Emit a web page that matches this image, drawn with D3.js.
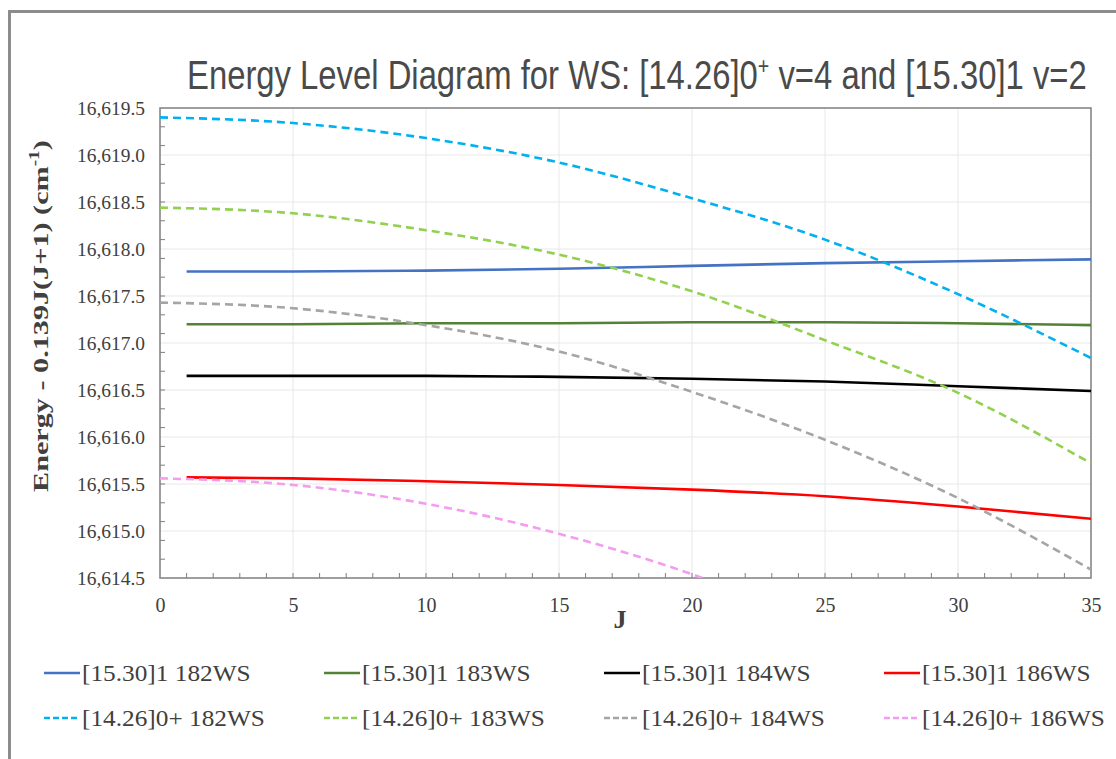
<!DOCTYPE html>
<html>
<head>
<meta charset="utf-8">
<script src="https://cdn.jsdelivr.net/npm/d3@7"></script>
<style>
  body { margin: 0; background: #fff; }
  svg { display: block; }
  .serif { font-family: "Liberation Serif", "Times New Roman", serif; }
</style>
</head>
<body>
<div id="chart"></div>
<script>
// J values
const jSolid = [1, 5, 10, 15, 20, 25, 30, 35];
const jDash = [0, 5, 10, 15, 20, 25, 30, 35];
const jPink = [0, 5, 10, 15, 20, 20.4];

// [15.30]1 v=2 (solid)
const ws182_1 = [16617.76, 16617.76, 16617.77, 16617.79, 16617.82, 16617.85, 16617.87, 16617.89];
const ws183_1 = [16617.20, 16617.20, 16617.21, 16617.21, 16617.22, 16617.22, 16617.21, 16617.19];
const ws184_1 = [16616.65, 16616.65, 16616.65, 16616.64, 16616.62, 16616.59, 16616.54, 16616.49];
const ws186_1 = [16615.57, 16615.56, 16615.53, 16615.49, 16615.44, 16615.37, 16615.26, 16615.13];

// [14.26]0+ v=4 (dashed)
const ws182_0 = [16619.40, 16619.34, 16619.18, 16618.92, 16618.54, 16618.10, 16617.52, 16616.84];
const ws183_0 = [16618.44, 16618.38, 16618.20, 16617.94, 16617.55, 16617.03, 16616.47, 16615.72];
const ws184_0 = [16617.43, 16617.37, 16617.19, 16616.91, 16616.48, 16615.97, 16615.35, 16614.59];
const ws186_0 = [16615.56, 16615.49, 16615.29, 16614.97, 16614.54, 16614.50];

const legendLabels = ['[15.30]1 182WS', '[15.30]1 183WS', '[15.30]1 184WS', '[15.30]1 186WS',
                      '[14.26]0+ 182WS', '[14.26]0+ 183WS', '[14.26]0+ 184WS', '[14.26]0+ 186WS'];

const xTicks = [0, 5, 10, 15, 20, 25, 30, 35];
const yTicks = [16614.5, 16615.0, 16615.5, 16616.0, 16616.5, 16617.0, 16617.5, 16618.0, 16618.5, 16619.0, 16619.5];

const series = [
  {name: legendLabels[0], j: jSolid, v: ws182_1, color: '#4472C4', dash: null},
  {name: legendLabels[1], j: jSolid, v: ws183_1, color: '#538135', dash: null},
  {name: legendLabels[2], j: jSolid, v: ws184_1, color: '#000000', dash: null},
  {name: legendLabels[3], j: jSolid, v: ws186_1, color: '#FF0000', dash: null},
  {name: legendLabels[4], j: jDash, v: ws182_0, color: '#00B0F0', dash: '8,5'},
  {name: legendLabels[5], j: jDash, v: ws183_0, color: '#92D050', dash: '8,5'},
  {name: legendLabels[6], j: jDash, v: ws184_0, color: '#A5A5A5', dash: '8,5'},
  {name: legendLabels[7], j: jPink, v: ws186_0, color: '#F49CF0', dash: '8,5'}
];

const W = 1116, H = 759;
const pLeft = 160, pRight = 1091, pTop = 108, pBottom = 578;

const svg = d3.select('#chart').append('svg')
  .attr('width', W)
  .attr('height', H);

// outer frame (only top and left visible)
svg.append('path')
  .attr('d', `M9.5,${H} L9.5,11.5 L${W},11.5`)
  .attr('fill', 'none')
  .attr('stroke', '#8c8c8c')
  .attr('stroke-width', 3);

const x = d3.scaleLinear().domain([0, 35]).range([pLeft, pRight]);
const y = d3.scaleLinear().domain([16614.5, 16619.5]).range([pBottom, pTop]);

// gridlines
svg.append('g')
  .selectAll('line')
  .data(xTicks.slice(1, -1))
  .join('line')
  .attr('x1', d => x(d)).attr('x2', d => x(d))
  .attr('y1', pTop).attr('y2', pBottom)
  .attr('stroke', '#e8e8e8').attr('stroke-width', 1);

svg.append('g')
  .selectAll('line')
  .data(yTicks.slice(1, -1))
  .join('line')
  .attr('x1', pLeft).attr('x2', pRight)
  .attr('y1', d => y(d)).attr('y2', d => y(d))
  .attr('stroke', '#e8e8e8').attr('stroke-width', 1);

// plot border
svg.append('rect')
  .attr('x', pLeft).attr('y', pTop)
  .attr('width', pRight - pLeft).attr('height', pBottom - pTop)
  .attr('fill', 'none')
  .attr('stroke', '#7f7f7f')
  .attr('stroke-width', 1.5);

// minor ticks, pointing inward
const xMinor = d3.range(1, 35);
const yMinor = d3.range(1, 25).map(i => 16614.5 + i * 0.2);

svg.append('g')
  .selectAll('line')
  .data(xMinor)
  .join('line')
  .attr('x1', d => x(d)).attr('x2', d => x(d))
  .attr('y1', pBottom).attr('y2', pBottom - 5)
  .attr('stroke', '#7f7f7f').attr('stroke-width', 1);

svg.append('g')
  .selectAll('line')
  .data(yMinor)
  .join('line')
  .attr('x1', pLeft).attr('x2', pLeft + 5)
  .attr('y1', d => y(d)).attr('y2', d => y(d))
  .attr('stroke', '#7f7f7f').attr('stroke-width', 1);

// axis labels
const xAxis = d3.axisBottom(x).tickValues(xTicks).tickSize(0).tickPadding(20);
const gx = svg.append('g').attr('transform', `translate(0,${pBottom})`).call(xAxis);
gx.attr('font-family', null).attr('font-size', null);
gx.select('.domain').remove();
gx.selectAll('text')
  .attr('class', 'serif')
  .style('font-size', '20px')
  .attr('fill', '#404040');

const yAxis = d3.axisLeft(y).tickValues(yTicks).tickSize(0).tickPadding(15).tickFormat(d3.format(',.1f'));
const gy = svg.append('g').attr('transform', `translate(${pLeft},0)`).call(yAxis);
gy.attr('font-family', null).attr('font-size', null);
gy.select('.domain').remove();
gy.selectAll('text')
  .attr('class', 'serif')
  .style('font-size', '19px')
  .attr('fill', '#404040')
  .each(function () {
    const len = this.getComputedTextLength();
    d3.select(this).attr('textLength', 68).attr('lengthAdjust', 'spacingAndGlyphs');
  });

// lines
svg.append('clipPath').attr('id', 'clip')
  .append('rect')
  .attr('x', pLeft).attr('y', pTop)
  .attr('width', pRight - pLeft).attr('height', pBottom - pTop);

const line = d3.line()
  .x(d => x(d[0]))
  .y(d => y(d[1]))
  .curve(d3.curveMonotoneX);

svg.append('g')
  .attr('clip-path', 'url(#clip)')
  .selectAll('path')
  .data(series)
  .join('path')
  .attr('d', s => line(s.j.map((j, i) => [j, s.v[i]])))
  .attr('fill', 'none')
  .attr('stroke', s => s.color)
  .attr('stroke-width', 2.6)
  .attr('stroke-dasharray', s => s.dash);

// title, squeezed horizontally to the reference width
const title = svg.append('text')
  .attr('font-family', '"Liberation Sans", Arial, sans-serif')
  .attr('font-size', 40)
  .attr('fill', '#4a4a4a')
  .html('Energy Level Diagram for WS: [14.26]0<tspan dy="-15" font-size="24">+</tspan><tspan dy="15"> v=4 and [15.30]1 v=2</tspan>');
const titleLen = title.node().getBBox().width;
title.attr('transform', `translate(187,89) scale(${900 / titleLen},1)`);

// axis titles
svg.append('text')
  .attr('x', 620)
  .attr('y', 628)
  .attr('text-anchor', 'middle')
  .attr('class', 'serif')
  .attr('font-weight', 'bold')
  .attr('font-size', 26)
  .attr('fill', '#404040')
  .text('J');

const yTitle = svg.append('text')
  .attr('class', 'serif')
  .attr('font-weight', 'bold')
  .attr('font-size', 22)
  .attr('fill', '#404040')
  .html('Energy - 0.139J(J+1)  (cm<tspan dy="-9" font-size="14">-1</tspan><tspan dy="9">)</tspan>');
const yTitleLen = yTitle.node().getBBox().width;
yTitle.attr('transform', `translate(48,492) rotate(-90) scale(${352 / yTitleLen},1)`);

// legend
const legendX = [44, 324, 604, 884];
const legendY = [673, 718];

const items = svg.append('g')
  .selectAll('g')
  .data(series)
  .join('g')
  .attr('transform', (s, i) => `translate(${legendX[i % 4]},${legendY[Math.floor(i / 4)]})`);

items.append('line')
  .attr('x1', 0).attr('x2', 36)
  .attr('y1', 0).attr('y2', 0)
  .attr('stroke', s => s.color)
  .attr('stroke-width', 2.6)
  .attr('stroke-dasharray', s => s.dash ? '6,3' : null);

items.append('text')
  .attr('x', 38)
  .attr('y', 8)
  .attr('class', 'serif')
  .attr('font-size', 23)
  .attr('fill', '#404040')
  .text(s => s.name)
  .each(function () {
    const len = this.getComputedTextLength();
    d3.select(this).attr('textLength', len * 1.1).attr('lengthAdjust', 'spacingAndGlyphs');
  });
</script>
</body>
</html>
